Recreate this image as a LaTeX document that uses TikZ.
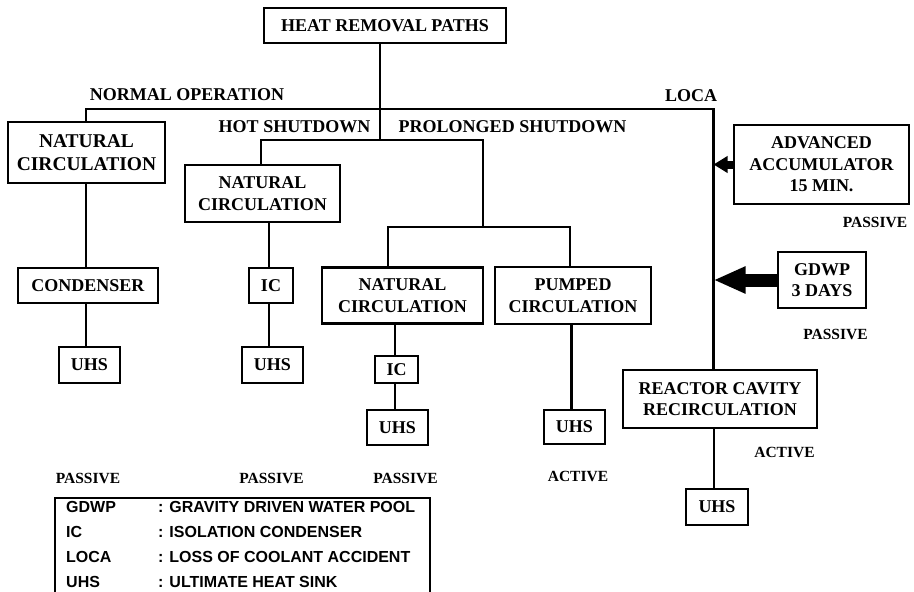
\documentclass[tikz,border=0pt]{standalone}
\usepackage{fontspec}
\setmainfont{Liberation Serif}
\newfontfamily\legendfont{Liberation Sans}
\usetikzlibrary{arrows.meta}
\tikzset{
  lw/.style={line width=2.8pt},
  box/.style={draw, lw, inner sep=0pt, align=center, font=\bfseries\fontsize{18}{21.5}\selectfont},
  lbl/.style={inner sep=0pt, font=\bfseries\fontsize{18}{21.5}\selectfont},
  small/.style={inner sep=0pt, font=\bfseries\fontsize{15.5}{18}\selectfont},
  leg/.style={inner sep=0pt, anchor=west, font=\legendfont\bfseries\fontsize{16}{18}\selectfont},
  conn/.style={lw},
}
\begin{document}
\begin{tikzpicture}[x=1pt,y=-1pt]
\useasboundingbox (0,0) rectangle (914,592);
% boxes
\node[box, minimum width=242pt, minimum height=35pt] (hrp) at (385,25.5) {HEAT REMOVAL PATHS};
\node[box, minimum width=157pt, minimum height=61pt, font=\bfseries\fontsize{19.5}{22.5}\selectfont] (nc1) at (86.5,152.5) {NATURAL\\CIRCULATION};
\node[box, minimum width=155pt, minimum height=57pt] (nc2) at (262.5,193.5) {NATURAL\\CIRCULATION};
\node[box, minimum width=140pt, minimum height=35pt] (cond) at (88,285.5) {CONDENSER};
\node[box, minimum width=61pt, minimum height=36pt] (uhs1) at (89.5,365) {UHS};
\node[box, minimum width=44pt, minimum height=35pt] (ic1) at (271,285.5) {IC};
\node[box, minimum width=61pt, minimum height=36pt] (uhs2) at (272.5,365) {UHS};
\node[box, minimum width=161pt, minimum height=56pt] (nc3) at (402.5,295.5) {NATURAL\\CIRCULATION};
\node[box, minimum width=156pt, minimum height=57pt] (pump) at (573,295.5) {PUMPED\\CIRCULATION};
\node[box, minimum width=43pt, minimum height=27pt] (ic2) at (396.5,369.5) {IC};
\node[box, minimum width=61pt, minimum height=35pt] (uhs3) at (397.5,427.5) {UHS};
\node[box, minimum width=61pt, minimum height=34pt] (uhs4) at (574.5,427) {UHS};
\node[box, minimum width=194pt, minimum height=58pt] (rcr) at (720,399) {REACTOR CAVITY\\RECIRCULATION};
\node[box, minimum width=62pt, minimum height=36pt] (uhs5) at (717,507) {UHS};
\node[box, minimum width=175pt, minimum height=79pt] (aa) at (821.5,164.5) {ADVANCED\\ACCUMULATOR\\15 MIN.};
\node[box, minimum width=88pt, minimum height=56pt] (gdwp) at (822,280) {GDWP\\3 DAYS};
% junction coordinates
\coordinate (j0) at (380,140);
\coordinate (jl) at (86,109);
\coordinate (jr) at (713.5,109);
\coordinate (jh1) at (261,140);
\coordinate (jh2) at (483,140);
\coordinate (jp) at (483,227);
\coordinate (jp1) at (388,227);
\coordinate (jp2) at (570,227);
% connectors
\draw[conn] (hrp.south -| j0) -- (j0);
\draw[conn] (nc1.north -| jl) -- (jl) -- (jr) -- (rcr.north -| jr);
\draw[conn] (nc2.north -| jh1) -- (jh1) -- (jh2) -- (jp);
\draw[conn] (nc3.north -| jp1) -- (jp1) -- (jp2) -- (pump.north -| jp2);
\draw[conn] (nc1.south -| jl) -- (cond.north -| jl);
\draw[conn] (cond.south -| jl) -- (uhs1.north -| jl);
\draw[conn] (nc2.south -| 269,0) -- (ic1.north -| 269,0);
\draw[conn] (ic1.south -| 269,0) -- (uhs2.north -| 269,0);
\draw[conn] (nc3.south -| 395,0) -- (ic2.north -| 395,0);
\draw[conn] (ic2.south -| 395,0) -- (uhs3.north -| 395,0);
\draw[conn] (pump.south -| 571.5,0) -- (uhs4.north -| 571.5,0);
\draw[conn] (rcr.south -| 714,0) -- (uhs5.north -| 714,0);
% arrows
\draw[line width=8pt, -{Triangle[length=14pt,width=16pt]}] (aa.west) -- (aa.west -| jr);
\draw[line width=13pt, -{Triangle[length=32pt,width=25pt]}] (gdwp.west) -- (gdwp.west -| jr);
% labels
\node[lbl] (lno) at (187,95) {NORMAL OPERATION};
\node[lbl] (lhs) at (294.5,126.5) {HOT SHUTDOWN};
\node[lbl] (lps) at (512.5,126.5) {PROLONGED SHUTDOWN};
\node[lbl] (lloca) at (691,96) {LOCA};
\node[small] (p1) at (875,222) {PASSIVE};
\node[small] (p2) at (835.5,334) {PASSIVE};
\node[small] (p3) at (88,478) {PASSIVE};
\node[small] (p4) at (271.5,478) {PASSIVE};
\node[small] (p5) at (405.5,478) {PASSIVE};
\node[small] (a1) at (784.5,452) {ACTIVE};
\node[small] (a2) at (578,476) {ACTIVE};
% legend
\draw[line width=1.3pt] (55,600) -- (55,498) -- (430,498) -- (430,600);
\node[leg] (g1) at (66,507) {GDWP};
\node[leg] (g2) at (158,507) {: GRAVITY DRIVEN WATER POOL};
\node[leg] (i1) at (66,532) {IC};
\node[leg] (i2) at (158,532) {: ISOLATION CONDENSER};
\node[leg] (l1) at (66,557) {LOCA};
\node[leg] (l2) at (158,557) {: LOSS OF COOLANT ACCIDENT};
\node[leg] (u1) at (66,582) {UHS};
\node[leg] (u2) at (158,582) {: ULTIMATE HEAT SINK};
\end{tikzpicture}
\end{document}
